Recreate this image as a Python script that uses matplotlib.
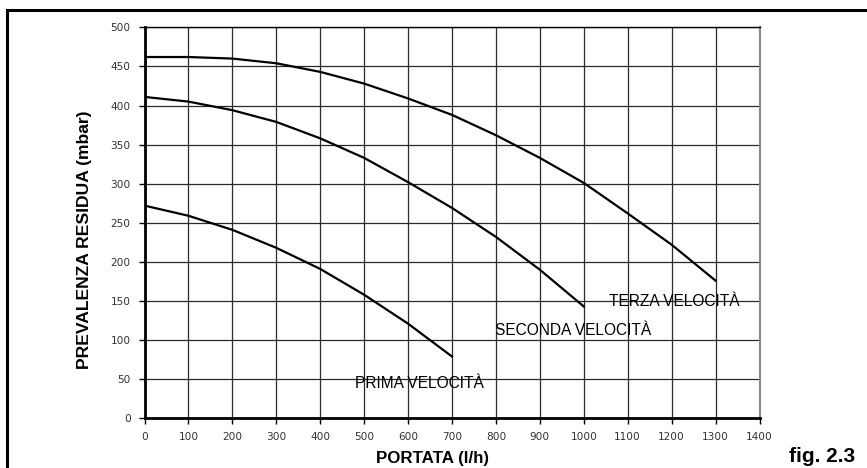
import matplotlib
matplotlib.use('Agg')
import matplotlib.pyplot as plt
import matplotlib.patches as patches

# portata (l/h) e prevalenza residua (mbar)
q_prima = [0, 100, 200, 300, 400, 500, 600, 700]
h_prima = [272, 259, 241, 218, 191, 158, 121, 79]

q_seconda = [0, 100, 200, 300, 400, 500, 600, 700, 800, 900, 1000]
h_seconda = [411, 405, 394, 379, 358, 333, 302, 269, 232, 190, 143]

q_terza = [0, 100, 200, 300, 400, 500, 600, 700, 800, 900, 1000, 1100, 1200, 1300]
h_terza = [462, 462, 460, 454, 443, 428, 409, 388, 362, 333, 301, 262, 222, 176]

labels = ['PRIMA VELOCITÀ', 'SECONDA VELOCITÀ', 'TERZA VELOCITÀ']
label_pos = [(479, 44), (798, 112), (1057, 149)]

x_ticks = list(range(0, 1401, 100))
y_ticks = list(range(0, 501, 50))

plt.rcParams['font.family'] = ['Liberation Sans', 'DejaVu Sans']

fig = plt.figure(figsize=(8.67, 4.68), dpi=100)

# cornice
frame = patches.Rectangle((7 / 867, -0.1), 1.2, 1 - 10 / 468 + 0.1, transform=fig.transFigure,
                          fill=False, edgecolor='black', linewidth=2.2)
fig.patches.append(frame)

ax = fig.add_axes([144.5 / 867, 1 - 418.3 / 468, 615 / 867, 391 / 468])

for q, h in [(q_prima, h_prima), (q_seconda, h_seconda), (q_terza, h_terza)]:
    ax.plot(q, h, color='black', linewidth=1.6, zorder=3)

for txt, (x, y) in zip(labels, label_pos):
    ax.text(x, y, txt, fontsize=11.2, ha='left', va='center', color='black', zorder=4)

ax.set_xlim(0, 1400)
ax.set_ylim(0, 500)
ax.set_xticks(x_ticks)
ax.set_yticks(y_ticks)
ax.tick_params(labelsize=7.6, labelcolor='#333333', length=4, width=1, direction='out', pad=6)
for lab in ax.get_xticklabels() + ax.get_yticklabels():
    lab.set_family('DejaVu Sans')

ax.grid(True, color='#2a2a2a', linewidth=0.9)
ax.set_axisbelow(True)

ax.spines['left'].set_linewidth(2)
ax.spines['bottom'].set_linewidth(2)
ax.spines['top'].set_linewidth(1)
ax.spines['right'].set_color('#888888')
ax.spines['right'].set_linewidth(1.5)

fig.text(433 / 867, 1 - 458 / 468, 'PORTATA (l/h)', fontsize=12.2, fontweight='bold',
         ha='center', va='center')
fig.text(85 / 867, 1 - 240 / 468, 'PREVALENZA RESIDUA (mbar)', fontsize=12.6, fontweight='bold',
         ha='center', va='center', rotation=90)
fig.text(822 / 867, 1 - 456 / 468, 'fig. 2.3', fontsize=15, fontweight='bold',
         ha='center', va='center')

fig.savefig('out.png', dpi=100)
